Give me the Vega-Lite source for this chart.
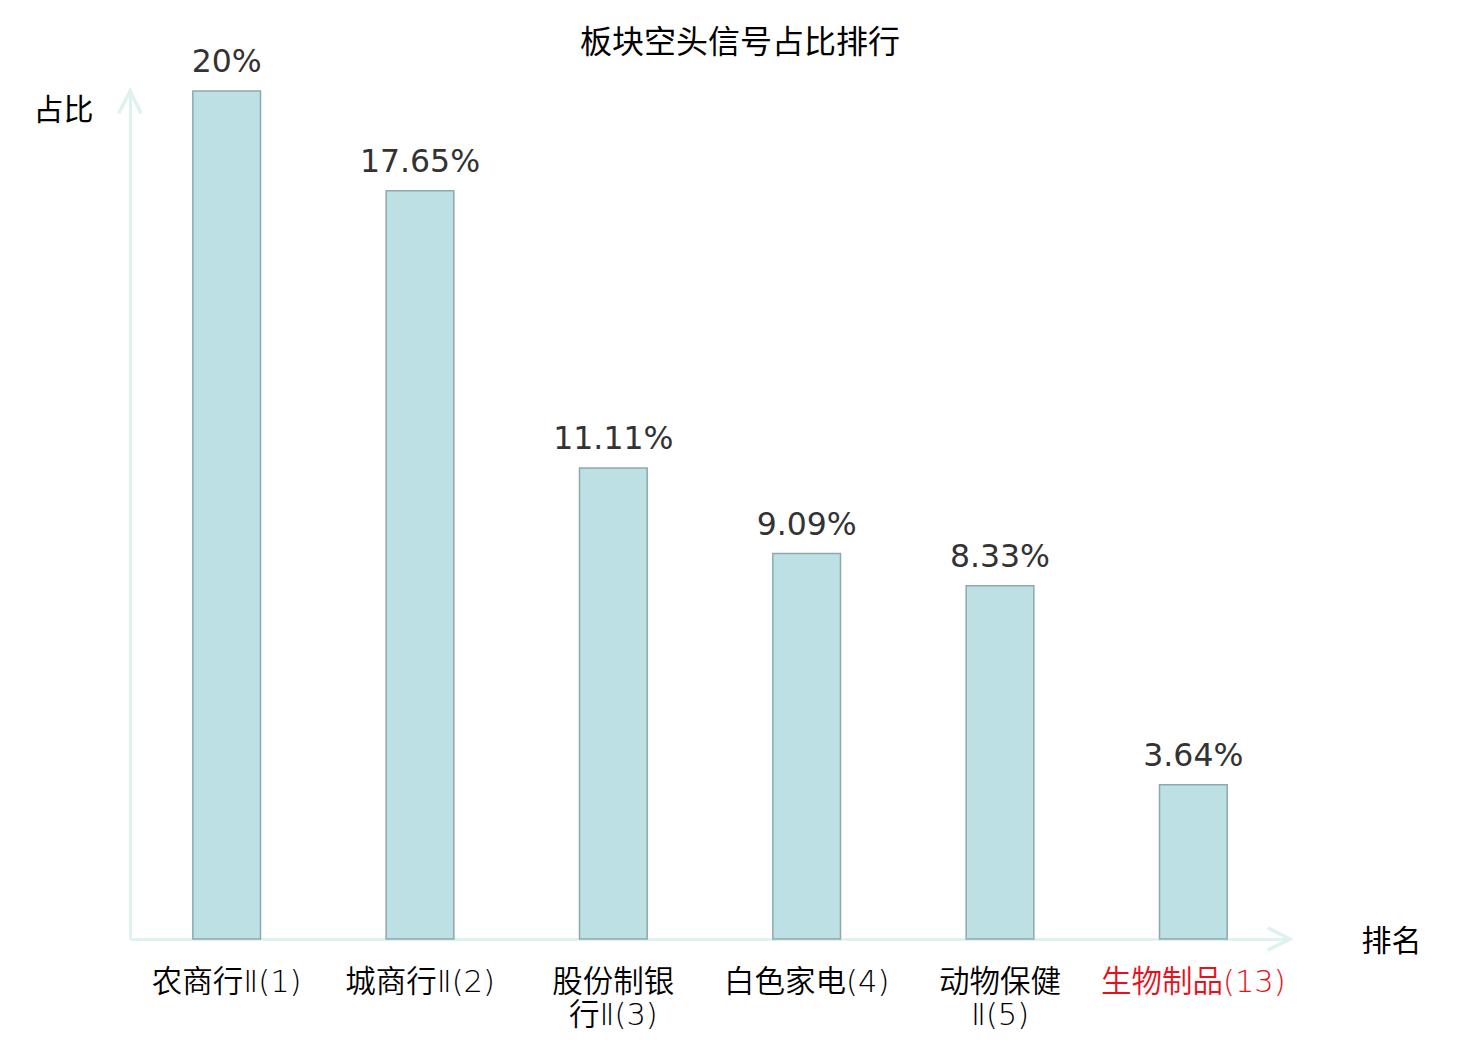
{
  "$schema": "https://vega.github.io/schema/vega-lite/v6.json",
  "autosize": {"type": "none"},
  "width": 1160,
  "height": 848,
  "padding": {"left": 130, "top": 91, "right": 190, "bottom": 101},
  "background": "white",
  "title": {
    "text": "板块空头信号占比排行",
    "font": "Noto Sans CJK SC",
    "fontSize": 32,
    "fontWeight": "normal",
    "color": "black",
    "anchor": "middle",
    "frame": "group",
    "dx": 30,
    "offset": -13
  },
  "data": {
    "values": [
      {"name": "农商行Ⅱ(1)", "value": 20, "label": "20%"},
      {"name": "城商行Ⅱ(2)", "value": 17.65, "label": "17.65%"},
      {"name": "股份制银\n行Ⅱ(3)", "value": 11.11, "label": "11.11%"},
      {"name": "白色家电(4)", "value": 9.09, "label": "9.09%"},
      {"name": "动物保健\nⅡ(5)", "value": 8.33, "label": "8.33%"},
      {"name": "生物制品(13)", "value": 3.64, "label": "3.64%"}
    ]
  },
  "encoding": {
    "x": {
      "field": "name",
      "type": "nominal",
      "sort": null,
      "scale": {"paddingInner": 0.65, "paddingOuter": 0.325},
      "axis": {
        "title": "排名",
        "titleFont": "Noto Sans CJK SC",
        "titleFontSize": 30,
        "titleFontWeight": "normal",
        "titleColor": "black",
        "titleX": 1261,
        "titleY": 2,
        "titleAlign": "center",
        "titleBaseline": "middle",
        "titleAngle": 0,
        "domainColor": "#dff2f0",
        "domainWidth": 3,
        "ticks": false,
        "labelAngle": 0,
        "labelFont": "DejaVu Sans, Noto Sans CJK SC",
        "labelFontWeight": 350,
        "labelFontSize": 30.5,
        "labelLineHeight": 33,
        "labelPadding": 28,
        "labelBaseline": "top",
        "labelLimit": 0,
        "labelOverlap": false,
        "labelExpr": "split(datum.value, '\\n')",
        "labelColor": {"condition": {"test": "datum.value == '生物制品(13)'", "value": "#e8101a"}, "value": "black"}
      }
    },
    "y": {
      "field": "value",
      "type": "quantitative",
      "scale": {"domain": [0, 20], "nice": false},
      "axis": {
        "title": "占比",
        "titleFont": "Noto Sans CJK SC",
        "titleFontSize": 30,
        "titleFontWeight": "normal",
        "titleColor": "black",
        "titleX": -67,
        "titleY": 19,
        "titleAlign": "center",
        "titleBaseline": "middle",
        "titleAngle": 0,
        "domainColor": "#dff2f0",
        "domainWidth": 3,
        "ticks": false,
        "labels": false,
        "grid": false
      }
    }
  },
  "layer": [
    {
      "mark": {"type": "bar", "color": "#bce0e3", "stroke": "#8ea9aa", "strokeWidth": 1.5}
    },
    {
      "mark": {"type": "text", "font": "DejaVu Sans", "fontSize": 31.5, "color": "#333333", "baseline": "alphabetic", "dy": -19},
      "encoding": {"text": {"field": "label"}}
    },
    {
      "mark": {"type": "point", "shape": "M-0.5,1L0,0L0.5,1", "size": 1936, "filled": false, "stroke": "#dff2f0", "strokeWidth": 3, "opacity": 1},
      "encoding": {"x": {"value": 0}, "y": {"datum": 20}}
    },
    {
      "mark": {"type": "point", "shape": "M-1,-0.5L0,0L-1,0.5", "size": 1936, "filled": false, "stroke": "#dff2f0", "strokeWidth": 3, "opacity": 1},
      "encoding": {"x": {"value": "width"}, "y": {"datum": 0}}
    }
  ],
  "config": {"view": {"stroke": null}}
}
